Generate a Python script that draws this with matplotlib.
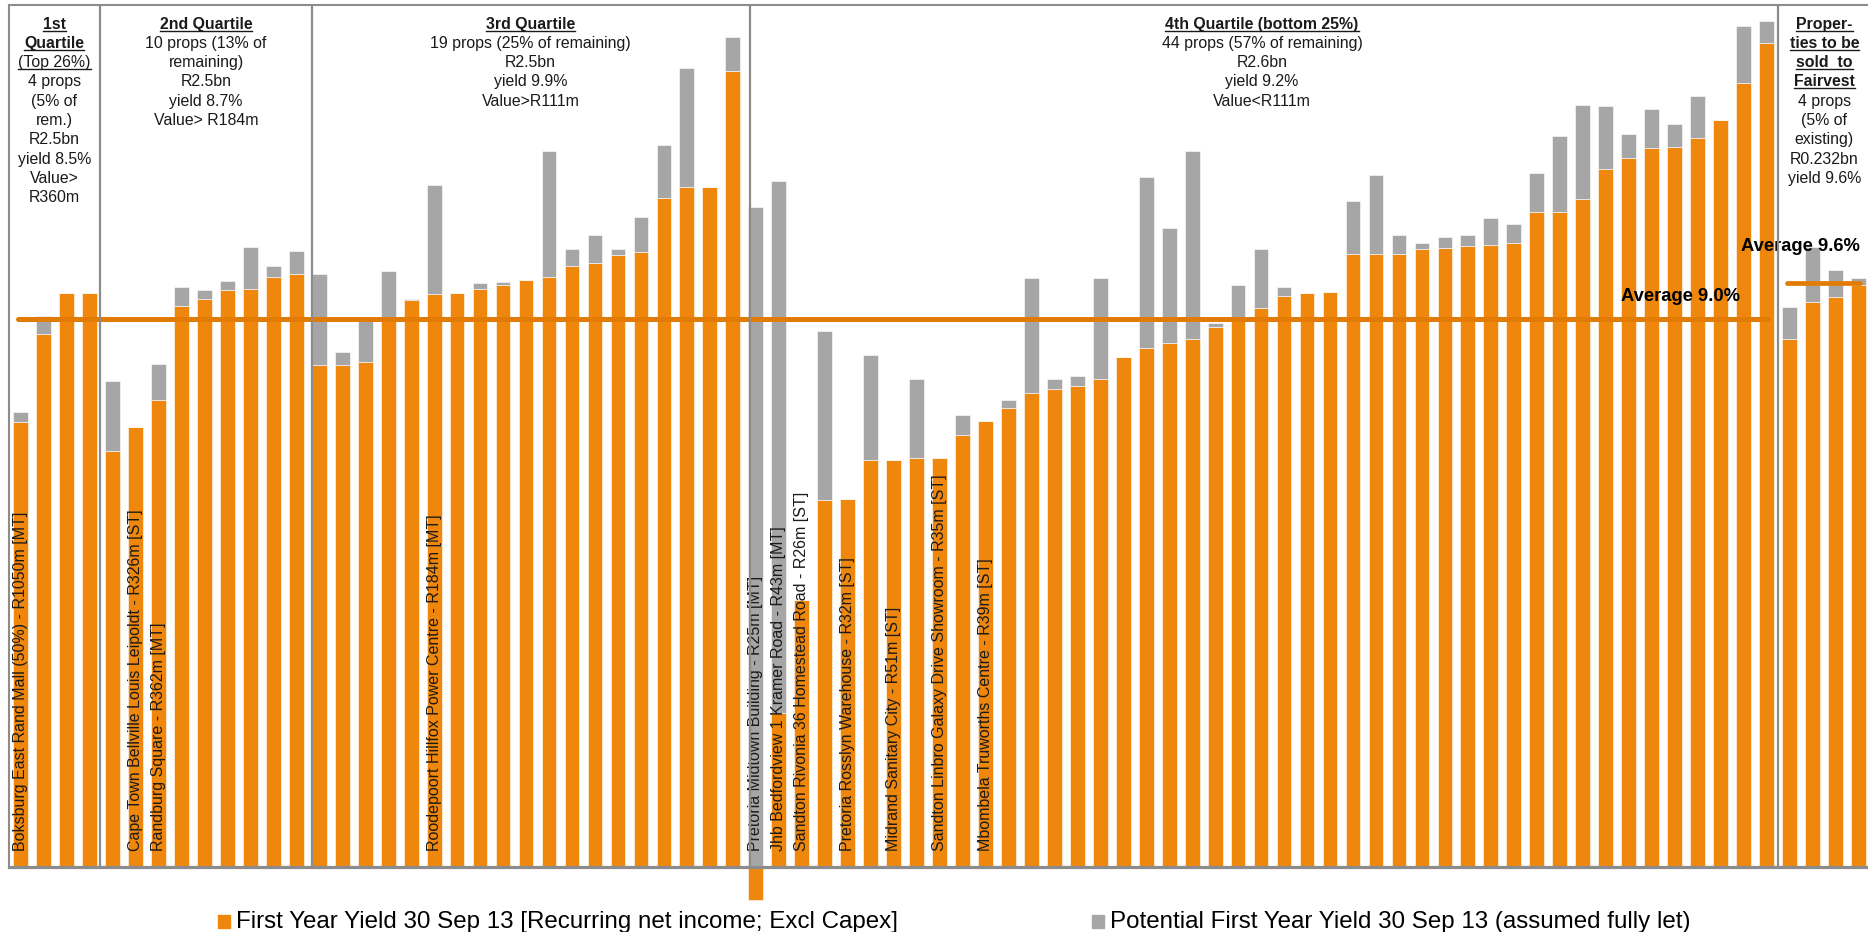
import numpy as np
import matplotlib
matplotlib.use("Agg")
import matplotlib.pyplot as plt
from matplotlib import font_manager
from matplotlib.patches import Rectangle
from matplotlib.lines import Line2D
from matplotlib.transforms import blended_transform_factory, IdentityTransform

# ---------------------------------------------------------------- data
# First year yield (%) per property, ranked by value, and the potential
# yield if fully let (%). Where no vacancy exists both values are equal.
first_year = [
    7.31, 8.76, 9.44, 9.44,
    6.84, 7.23, 7.67, 9.22, 9.34, 9.48, 9.50, 9.70, 9.74,
    8.25, 8.25, 8.30, 9.04, 9.32, 9.41, 9.44, 9.50, 9.57, 9.65,
    9.69, 9.87, 9.93, 10.05, 10.11, 11.00, 11.17, 11.17, 13.08,
    -0.55, 2.52, 4.39, 6.02, 6.05, 6.69, 6.69, 6.72, 6.72, 7.10,
    7.33, 7.54, 7.78, 7.85, 7.90, 8.02, 8.38, 8.52, 8.61, 8.67,
    8.88, 9.02, 9.19, 9.39, 9.43, 9.45, 10.07, 10.07, 10.08, 10.16,
    10.18, 10.20, 10.23, 10.26, 10.76, 10.76, 10.98, 11.47, 11.66, 11.81,
    11.84, 11.99, 12.27, 12.88, 13.54,
    8.68, 9.29, 9.36, 9.56,
]
potential = [
    7.47, 9.06, 9.44, 9.44,
    7.98, 7.23, 8.27, 9.53, 9.48, 9.63, 10.19, 9.88, 10.12,
    9.74, 8.47, 9.00, 9.80, 9.34, 11.21, 9.44, 9.59, 9.61, 9.65,
    11.77, 10.16, 10.39, 10.15, 10.69, 11.86, 13.14, 11.17, 13.65,
    10.85, 11.28, 4.39, 8.80, 6.05, 8.41, 6.69, 8.02, 6.72, 7.43,
    7.33, 7.68, 9.68, 8.01, 8.07, 9.68, 8.38, 11.34, 10.50, 11.76,
    8.94, 9.57, 10.15, 9.53, 9.43, 9.45, 10.95, 11.37, 10.38, 10.25,
    10.35, 10.38, 10.67, 10.56, 11.41, 12.02, 12.53, 12.50, 12.04, 12.46,
    12.21, 12.67, 12.27, 13.83, 13.90,
    9.20, 10.19, 9.81, 9.68,
]

# Named properties (index in ranking -> label)
property_labels = {
    0: "Boksburg East Rand Mall (50%) - R1050m [MT]",
    5: "Cape Town Bellville Louis Leipoldt - R326m [ST]",
    6: "Randburg Square - R362m [MT]",
    18: "Roodepoort Hillfox Power Centre - R184m [MT]",
    32: "Pretoria Midtown Building - R25m [MT]",
    33: "Jhb Bedfordview 1 Kramer Road - R43m [MT]",
    34: "Sandton Rivonia 36 Homestead Road - R26m [ST]",
    36: "Pretoria Rosslyn Warehouse - R32m [ST]",
    38: "Midrand Sanitary City - R51m [ST]",
    40: "Sandton Linbro Galaxy Drive Showroom - R35m [ST]",
    42: "Mbombela Truworths Centre - R39m [ST]",
}

avg_portfolio = 9.0
avg_fairvest = 9.6

series_names = [
    "First Year Yield 30 Sep 13 [Recurring net income; Excl Capex]",
    "Potential First Year Yield 30 Sep 13 (assumed fully let)",
]

# Section header text, one entry per line
header_1 = ["1st", "Quartile", "(Top 26%)", "4 props", "(5% of", "rem.)",
            "R2.5bn", "yield 8.5%", "Value>", "R360m"]
header_2 = ["2nd Quartile", "10 props (13% of", "remaining)", "R2.5bn",
            "yield 8.7%", "Value> R184m"]
header_3 = ["3rd Quartile", "19 props (25% of remaining)", "R2.5bn",
            "yield 9.9%", "Value>R111m"]
header_4 = ["4th Quartile (bottom 25%)", "44 props (57% of remaining)",
            "R2.6bn", "yield 9.2%", "Value<R111m"]
header_5 = ["Proper-", "ties to be", "sold  to", "Fairvest", "4 props",
            "(5% of", "existing)", "R0.232bn", "yield 9.6%"]

# ---------------------------------------------------------------- style
ORANGE = "#F0870D"
GREY = "#A6A6A6"
AVG = "#E27B04"
FRAME = "#8C8C8C"
TEXT = "#1A1A1A"

available = {f.name for f in font_manager.fontManager.ttflist}
NARROW = "Liberation Sans Narrow" if "Liberation Sans Narrow" in available else "Liberation Sans"
label_size = 13.5 if NARROW == "Liberation Sans Narrow" else 11.5
plt.rcParams["font.family"] = ["Liberation Sans", "DejaVu Sans"]

W, H = 1868, 932
fig = plt.figure(figsize=(W / 100, H / 100), dpi=100)
ax_top, ax_base = 4.6, 866.5
ax = fig.add_axes([9 / W, (H - ax_base) / H, (W - 9) / W, (ax_base - ax_top) / H])

n = len(first_year)
x = np.arange(n)
fy = np.array(first_year)
pot = np.array(potential)
base = np.clip(fy, 0, None)

ax.bar(x, fy, width=0.64, color=ORANGE, edgecolor="white", linewidth=0.4,
       zorder=2, clip_on=False)
ax.bar(x, pot - base, bottom=base, width=0.64, color=GREY, edgecolor="white",
       linewidth=0.4, zorder=2)

ax.set_xlim(-0.509, 80.42)
ax.set_ylim(0, (ax_base - ax_top) / 60.8)
ax.set_xticks([])
ax.set_yticks([])
ax.spines["right"].set_visible(False)
for side, lw in (("left", 1.5), ("top", 1.5), ("bottom", 2.3)):
    ax.spines[side].set_color(FRAME)
    ax.spines[side].set_linewidth(lw)

# Section dividers
for xd in (3.45, 12.67, 31.75, 76.52):
    ax.axvline(xd, color=FRAME, lw=1.6, zorder=6)

# Average lines
ax.plot([-0.12, 76.07], [avg_portfolio] * 2, color=AVG, lw=3.6,
        solid_capstyle="round", zorder=4)
ax.plot([76.88, 80.07], [avg_fairvest] * 2, color=AVG, lw=3.4,
        solid_capstyle="round", zorder=4)
ax.text(69.67, 9.38, f"Average {avg_portfolio:.1f}%", fontsize=13.2, fontweight="bold",
        color="black", ha="left", va="center", zorder=5)
ax.text(74.9, 10.19, f"Average {avg_fairvest:.1f}%", fontsize=13.2, fontweight="bold",
        color="black", ha="left", va="center", zorder=5)

# Rotated property labels inside bars
for i, lab in property_labels.items():
    ax.text(i, 0.26, lab, rotation=90, ha="center", va="bottom",
            family=[NARROW, "DejaVu Sans"], fontsize=label_size, color=TEXT,
            zorder=5)

# Section headers
trans = blended_transform_factory(ax.transData, ax.transAxes)
underlined = []


def header(xc, lines, n_emph, bold=None):
    for k, line in enumerate(lines):
        y_px = 28.6 + 19.3 * k
        yf = 1 - (y_px - ax_top) / (ax_base - ax_top)
        is_bold = k < n_emph if bold is None else bold[k]
        t = ax.text(xc, yf, line, transform=trans, ha="center", va="baseline",
                    fontsize=11.4, color=TEXT,
                    fontweight="bold" if is_bold else "normal", zorder=5)
        if k < n_emph:
            underlined.append(t)


header(1.47, header_1, 3, bold=[True, True] + [False] * 8)
header(8.07, header_2, 1)
header(22.2, header_3, 1)
header(54.04, header_4, 1)
header(78.52, header_5, 4)


# Legend
def legend_item(x_px, color, text):
    fig.patches.append(Rectangle((x_px / W, 1 - 928 / H), 12 / W, 13 / H,
                                 transform=fig.transFigure, color=color,
                                 figure=fig))
    fig.text((x_px + 18) / W, 1 - 922 / H, text, ha="left", va="center",
             fontsize=17.4, color="black")


legend_item(218, ORANGE, series_names[0])
legend_item(1092, GREY, series_names[1])

# Underlines below emphasised header lines
fig.canvas.draw()
renderer = fig.canvas.get_renderer()
for t in underlined:
    bb = t.get_window_extent(renderer)
    xb, yb = t.get_transform().transform(t.get_position())
    fig.add_artist(Line2D([bb.x0, bb.x1], [yb - 2, yb - 2], color=TEXT,
                          lw=1.0, transform=IdentityTransform()))

fig.savefig("out.png", dpi=100)
